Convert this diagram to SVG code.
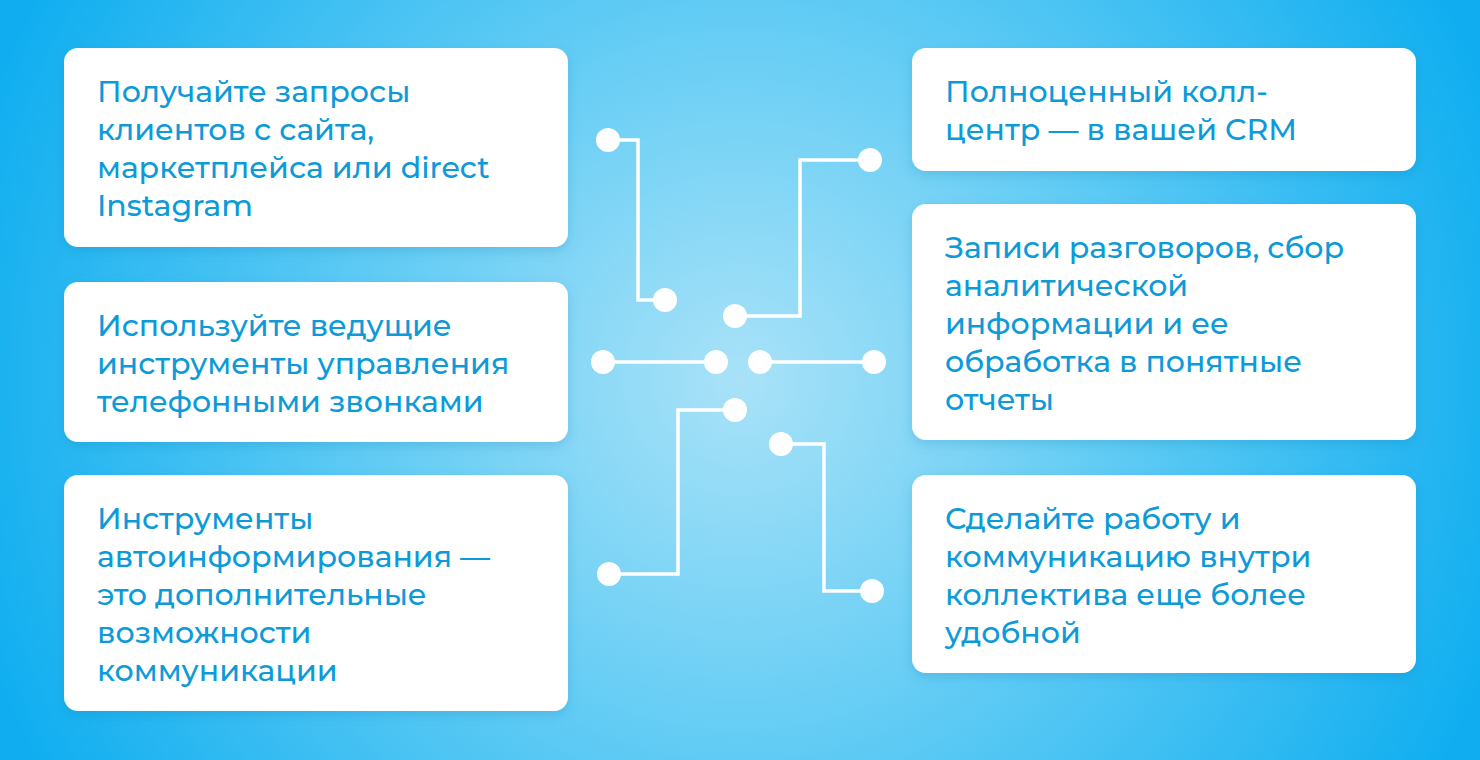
<svg xmlns="http://www.w3.org/2000/svg" width="1480" height="760" viewBox="0 0 1480 760">
<defs>
<radialGradient id="bg" cx="740" cy="380" r="800" gradientUnits="userSpaceOnUse">
<stop offset="0" stop-color="#a9e2f8"/>
<stop offset="0.5" stop-color="#5ccaf4"/>
<stop offset="1" stop-color="#10aef0"/>
</radialGradient>
<filter id="sh" x="-10%" y="-10%" width="120%" height="130%"><feDropShadow dx="0" dy="4" stdDeviation="6" flood-color="#0a6fa0" flood-opacity="0.2"/></filter>
</defs>
<style>
.box{fill:#fff;filter:url(#sh)}
.t{font-family:"Montserrat","Inter","Open Sans",sans-serif;font-size:30px;fill:#0d9ad8;font-weight:500}
.ln{fill:none;stroke:#fff;stroke-width:3.5}
.d{fill:#fff}
</style>
<rect width="1480" height="760" fill="url(#bg)"/>
<g id="connectors">
<path class="ln" d="M608 140H638V300H665"/>
<path class="ln" d="M870 160H800V316H735"/>
<path class="ln" d="M603 362H716"/>
<path class="ln" d="M760 362H874"/>
<path class="ln" d="M735 410H678V574H609"/>
<path class="ln" d="M781 444H824V591H872"/>
<g class="d">
<circle cx="608" cy="140" r="12"/><circle cx="665" cy="300" r="12"/>
<circle cx="870" cy="160" r="12"/><circle cx="735" cy="316" r="12"/>
<circle cx="603" cy="362" r="12"/><circle cx="716" cy="362" r="12"/>
<circle cx="760" cy="362" r="12"/><circle cx="874" cy="362" r="12"/>
<circle cx="735" cy="410" r="12"/><circle cx="609" cy="574" r="12"/>
<circle cx="781" cy="444" r="12"/><circle cx="872" cy="591" r="12"/>
</g>
</g>
<g id="n1"><rect class="box" x="64" y="48" width="504" height="199" rx="14"/>
<text class="t" x="97" y="102">Получайте запросы<tspan x="97" dy="38">клиентов с сайта,</tspan><tspan x="97" dy="38">маркетплейса или direct</tspan><tspan x="97" dy="38">Instagram</tspan></text></g>
<g id="n2"><rect class="box" x="64" y="282" width="504" height="160" rx="14"/>
<text class="t" x="97" y="336">Используйте ведущие<tspan x="97" dy="38">инструменты управления</tspan><tspan x="97" dy="38">телефонными звонками</tspan></text></g>
<g id="n3"><rect class="box" x="64" y="475" width="504" height="236" rx="14"/>
<text class="t" x="97" y="529">Инструменты<tspan x="97" dy="38">автоинформирования —</tspan><tspan x="97" dy="38">это дополнительные</tspan><tspan x="97" dy="38">возможности</tspan><tspan x="97" dy="38">коммуникации</tspan></text></g>
<g id="n4"><rect class="box" x="912" y="48" width="504" height="123" rx="14"/>
<text class="t" x="945" y="102">Полноценный колл-<tspan x="945" dy="38">центр — в вашей CRM</tspan></text></g>
<g id="n5"><rect class="box" x="912" y="204" width="504" height="236" rx="14"/>
<text class="t" x="945" y="258">Записи разговоров, сбор<tspan x="945" dy="38">аналитической</tspan><tspan x="945" dy="38">информации и ее</tspan><tspan x="945" dy="38">обработка в понятные</tspan><tspan x="945" dy="38">отчеты</tspan></text></g>
<g id="n6"><rect class="box" x="912" y="475" width="504" height="198" rx="14"/>
<text class="t" x="945" y="529">Сделайте работу и<tspan x="945" dy="38">коммуникацию внутри</tspan><tspan x="945" dy="38">коллектива еще более</tspan><tspan x="945" dy="38">удобной</tspan></text></g>
</svg>
